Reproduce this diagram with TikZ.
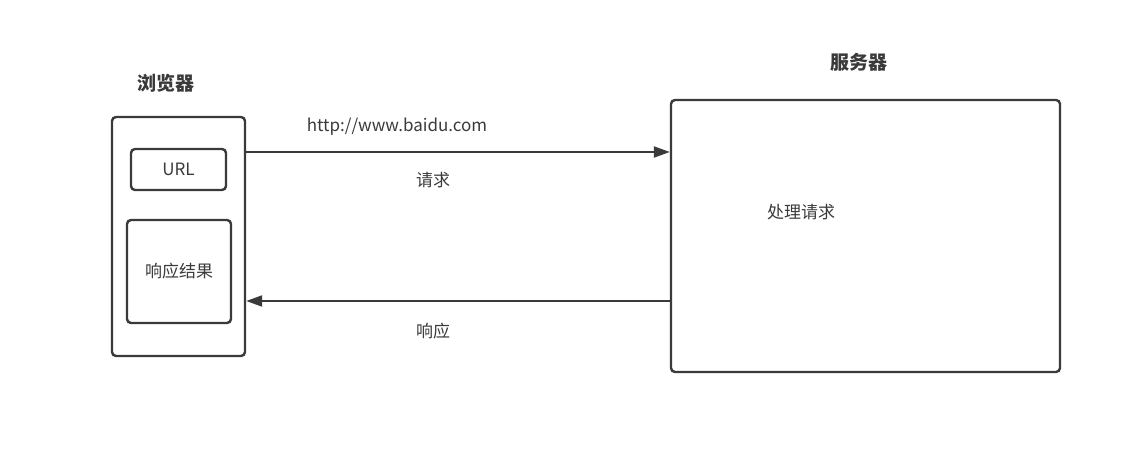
\documentclass[tikz,border=0pt]{standalone}
\usepackage{fontspec}
\setmainfont{Noto Sans CJK SC}
\usetikzlibrary{arrows.meta}
\definecolor{ink}{HTML}{3A3A3A}
\begin{document}
\begin{tikzpicture}[x=1pt,y=-1pt,
  box/.style={draw=ink,line width=2.4pt,rounded corners=4pt,inner sep=0pt},
  conn/.style={draw=ink,line width=2.2pt,-{Triangle[length=16pt,width=11pt]}},
  lbl/.style={text=ink,font=\fontsize{17}{20}\selectfont,inner sep=0pt},
  title/.style={text=ink,font=\bfseries\fontsize{19}{22}\selectfont,inner sep=0pt}]
\useasboundingbox (0,0) rectangle (1141,449);
% browser
\node[box,minimum width=133pt,minimum height=239pt] (browser) at (178.5,236.5) {};
\node[box,minimum width=95pt,minimum height=41pt] (url) at (178.5,169.5) {};
\node[box,minimum width=104pt,minimum height=103pt] (result) at (179,271.5) {};
\node[lbl] at (url.center) {URL};
\node[lbl] at (result.center) {响应结果};
\node[title] (btitle) at (166,83) {浏览器};
% server
\node[box,minimum width=389pt,minimum height=272pt] (server) at (865.5,236) {};
\node[title] (stitle) at (859,62) {服务器};
\node[lbl] (proc) at (801,212) {处理请求};
% connectors
\coordinate (reqS) at (browser.east |- 0,152);
\coordinate (reqE) at (server.west |- 0,152);
\coordinate (resS) at (server.west |- 0,301);
\coordinate (resE) at (browser.east |- 0,301);
\draw[conn] (reqS) -- (reqE);
\draw[conn] (resS) -- (resE);
\node[lbl] (urltext) at (397,127) {http://www.baidu.com};
\node[lbl] (req) at (433,180) {请求};
\node[lbl] (res) at (433,331) {响应};
\end{tikzpicture}
\end{document}
